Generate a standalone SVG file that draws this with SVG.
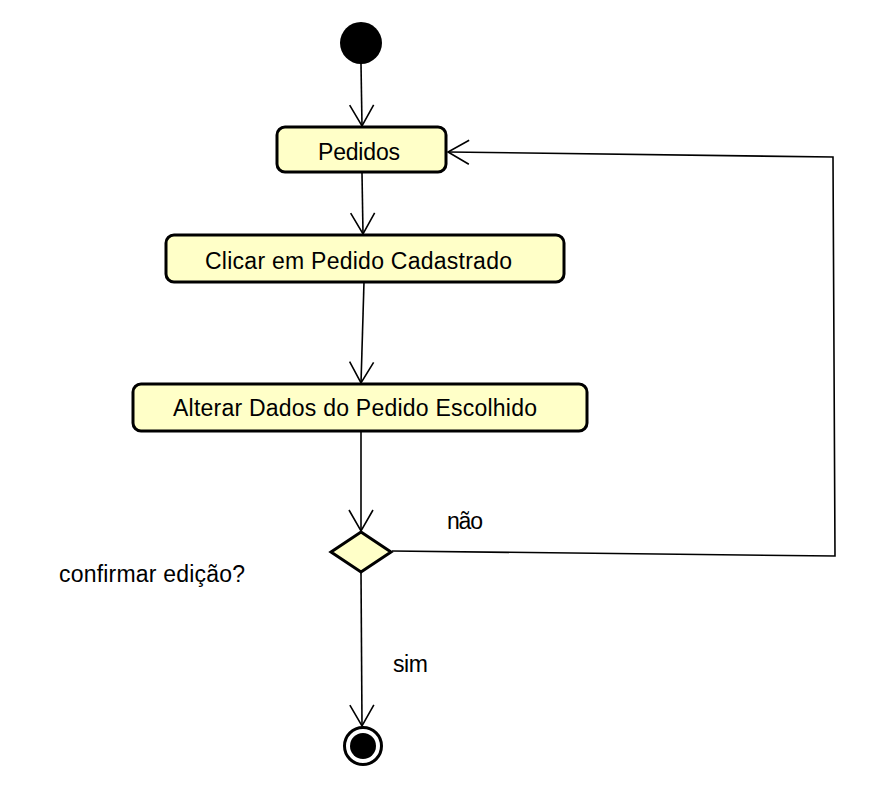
<svg xmlns="http://www.w3.org/2000/svg" width="874" height="787" viewBox="0 0 874 787">
<style>
.act{fill:#ffffc8;stroke:#000;stroke-width:3}
.lbl{font-family:"Liberation Sans",Arial,sans-serif;font-size:23px;fill:#000}
.edge{fill:none;stroke:#000;stroke-width:1.6}
</style>
<defs>
<marker id="arr" markerUnits="userSpaceOnUse" markerWidth="30" markerHeight="30" viewBox="-25 -15 30 30" refX="0" refY="0" orient="auto" overflow="visible">
<path d="M-21,-12 L0,0 L-21,12" fill="none" stroke="#000" stroke-width="1.6"/>
</marker>
</defs>
<rect width="874" height="787" fill="#fff"/>
<g id="connectors">
<path class="edge" d="M361,64 L362,126" marker-end="url(#arr)"/>
<path class="edge" d="M362,173 L363,234" marker-end="url(#arr)"/>
<path class="edge" d="M364,282 L361,383" marker-end="url(#arr)"/>
<path class="edge" d="M361,431 L361,531" marker-end="url(#arr)"/>
<path class="edge" d="M392,551 L835,556 L833,157 L448,152" marker-end="url(#arr)"/>
<path class="edge" d="M361,572 L362,726" marker-end="url(#arr)"/>
</g>
<g id="start"><circle cx="361" cy="43" r="21" fill="#000"/></g>
<g id="pedidos">
<rect class="act" x="277" y="127" width="169" height="45" rx="8"/>
<text class="lbl" x="318" y="160" textLength="82">Pedidos</text>
</g>
<g id="clicar">
<rect class="act" x="166" y="235" width="398" height="47" rx="8"/>
<text class="lbl" x="205" y="269" textLength="307">Clicar em Pedido Cadastrado</text>
</g>
<g id="alterar">
<rect class="act" x="133" y="384" width="454" height="47" rx="8"/>
<text class="lbl" x="173" y="416" textLength="364">Alterar Dados do Pedido Escolhido</text>
</g>
<g id="decision">
<polygon class="act" points="361,532 391,552 361,572 331,552"/>
</g>
<g id="end">
<circle cx="363" cy="746" r="18.5" fill="#fff" stroke="#000" stroke-width="3"/>
<circle cx="363" cy="746" r="13" fill="#000"/>
</g>
<g id="labels">
<text class="lbl" x="447" y="529" textLength="36">não</text>
<text class="lbl" x="393" y="672" textLength="35">sim</text>
<text class="lbl" x="59" y="582" textLength="186">confirmar edição?</text>
</g>
</svg>
